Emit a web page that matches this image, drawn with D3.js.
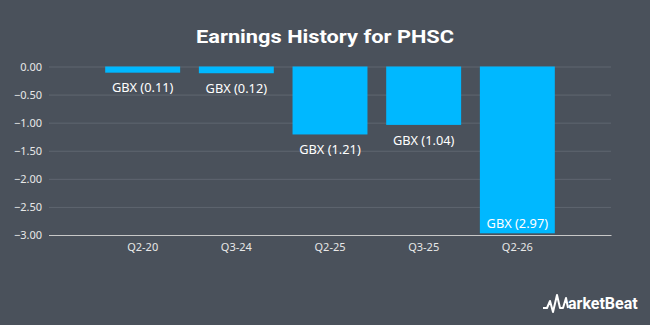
<!DOCTYPE html>
<html><head><meta charset="utf-8">
<script src="https://cdn.jsdelivr.net/npm/d3@7/dist/d3.min.js"></script>
<style>html,body{margin:0;padding:0;background:#4a515b;}svg{display:block;}</style>
</head><body>
<svg id="chart" width="650" height="325"></svg>
<script>
const categories = ["Q2-20", "Q3-24", "Q2-25", "Q3-25", "Q2-26"];
const values = [-0.11, -0.12, -1.21, -1.04, -2.97];
const valueLabels = ["GBX (0.11)", "GBX (0.12)", "GBX (1.21)", "GBX (1.04)", "GBX (2.97)"];
const yTicks = [0, -0.5, -1, -1.5, -2, -2.5, -3];
const title = "Earnings History for PHSC";

const svg = d3.select("#chart");
const W = 650, H = 325;
const m = {left: 49, right: 39, top: 66.5, bottom: 90};
const FONT = "'Noto Sans', 'Open Sans', sans-serif";
svg.append("rect").attr("width", W).attr("height", H).attr("fill", "#4a515b");

svg.append("text").attr("x", 325).attr("y", 42.7).attr("text-anchor", "middle")
  .attr("font-family", "Roboto, sans-serif").attr("font-weight", "bold").attr("font-size", 19)
  .attr("textLength", 258).attr("lengthAdjust", "spacingAndGlyphs")
  .attr("fill", "#ffffff").text(title);

const x = d3.scaleBand().domain(categories).range([m.left, W - m.right]).paddingInner(0.2).paddingOuter(0.6);
const y = d3.scaleLinear().domain([0, -3]).range([m.top, 235]);

// grid
const grid = svg.append("g").attr("transform", `translate(${m.left},0)`)
  .call(d3.axisLeft(y).tickValues(yTicks).tickSize(-(W - m.right - m.left)).tickFormat(d3.format(".2f")));
grid.select(".domain").remove();
grid.selectAll(".tick line").attr("stroke", "#5f6670").attr("stroke-width", 1);
grid.selectAll(".tick text").attr("fill", "#e8e8e8").attr("font-family", FONT)
  .attr("font-size", 11).attr("x", -7);
grid.selectAll(".tick").filter(d => d === -3).select("line").attr("stroke", "#c8c8c8");

// bars
svg.append("g").selectAll("rect").data(values).join("rect")
  .attr("x", (d, i) => x(categories[i]))
  .attr("width", x.bandwidth())
  .attr("y", y(0))
  .attr("height", d => y(d) - y(0))
  .attr("fill", "#00b8ff");

// labels
svg.append("g").selectAll("text").data(values).join("text")
  .attr("x", (d, i) => x(categories[i]) + x.bandwidth() / 2)
  .attr("y", d => { const b = y(d); return b + 20 > 235 ? b - 5.5 : b + 19.6; })
  .attr("text-anchor", "middle")
  .attr("font-family", FONT).attr("font-size", 12.8)
  .attr("fill", "#ffffff")
  .text((d, i) => valueLabels[i]);

// x axis
const xa = svg.append("g").attr("transform", `translate(0,235)`)
  .call(d3.axisBottom(x).tickSize(0).tickPadding(5));
xa.select(".domain").attr("stroke", "#c8c8c8");
xa.selectAll("text").attr("fill", "#e8e8e8").attr("font-family", FONT).attr("font-size", 11)
  .attr("dy", null).attr("y", 16);

// logo
const logo = svg.append("g").attr("transform", "translate(543,295)");
logo.append("path").attr("d", "M0,13 L4,13 L7,6 L10,17 L14,0 L17,13 L20,13 L23,3 L25,13")
  .attr("fill", "none").attr("stroke", "#ffffff").attr("stroke-width", 2).attr("stroke-linejoin", "round");
logo.append("text").attr("x", 25).attr("y", 14).attr("font-family", "Roboto, sans-serif")
  .attr("font-weight", "bold").attr("font-size", 16).attr("fill", "#ffffff").text("arketBeat");
</script>
</body></html>
